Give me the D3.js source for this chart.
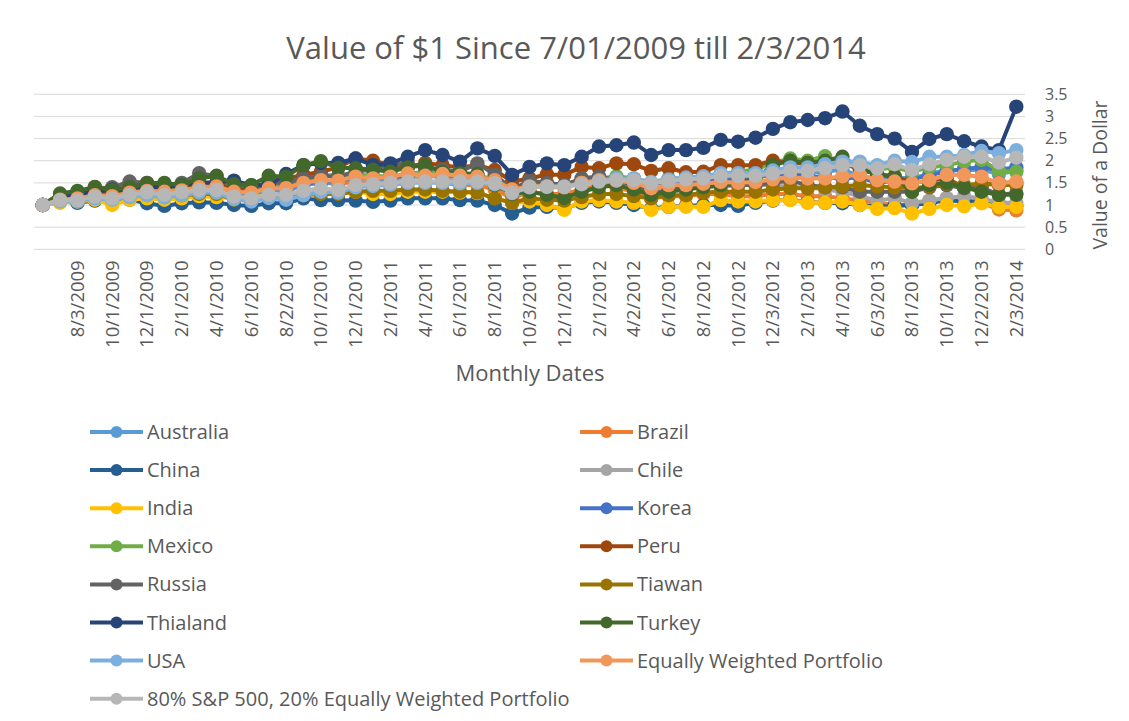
<!DOCTYPE html>
<html>
<head>
<meta charset="utf-8">
<script src="https://cdn.jsdelivr.net/npm/d3@7"></script>
<style>
  body { margin: 0; background: #fff; }
  text { font-family: "Open Sans", "Liberation Sans", sans-serif; fill: #595959; }
</style>
</head>
<body>
<div id="dataviz"></div>
<script>
// categories: 57 monthly dates (first one is the base point, not labelled)
var dates = ["6/1/2009", "7/1/2009", "8/3/2009", "9/1/2009", "10/1/2009", "11/2/2009", "12/1/2009",
  "1/4/2010", "2/1/2010", "3/1/2010", "4/1/2010", "5/3/2010", "6/1/2010", "7/1/2010", "8/2/2010",
  "9/1/2010", "10/1/2010", "11/1/2010", "12/1/2010", "1/3/2011", "2/1/2011", "3/1/2011", "4/1/2011",
  "5/2/2011", "6/1/2011", "7/1/2011", "8/1/2011", "9/1/2011", "10/3/2011", "11/1/2011", "12/1/2011",
  "1/3/2012", "2/1/2012", "3/1/2012", "4/2/2012", "5/1/2012", "6/1/2012", "7/2/2012", "8/1/2012",
  "9/4/2012", "10/1/2012", "11/1/2012", "12/3/2012", "1/2/2013", "2/1/2013", "3/1/2013", "4/1/2013",
  "5/1/2013", "6/3/2013", "7/1/2013", "8/1/2013", "9/3/2013", "10/1/2013", "11/1/2013", "12/2/2013",
  "1/2/2014", "2/3/2014"];

var australia = [1.0, 1.12, 1.18, 1.3, 1.32, 1.4, 1.42, 1.35, 1.38, 1.45, 1.45, 1.25, 1.22, 1.35, 1.3, 1.45, 1.5, 1.48, 1.55, 1.58, 1.6, 1.62, 1.68, 1.62, 1.55, 1.55, 1.45, 1.32, 1.48, 1.45, 1.42, 1.52, 1.55, 1.55, 1.5, 1.4, 1.45, 1.5, 1.55, 1.6, 1.6, 1.62, 1.68, 1.72, 1.72, 1.75, 1.8, 1.65, 1.6, 1.62, 1.6, 1.7, 1.8, 1.78, 1.8, 1.7, 1.78];
var brazil = [1.0, 1.15, 1.25, 1.4, 1.38, 1.5, 1.5, 1.42, 1.45, 1.5, 1.5, 1.35, 1.3, 1.45, 1.4, 1.55, 1.55, 1.5, 1.5, 1.45, 1.45, 1.5, 1.55, 1.5, 1.45, 1.45, 1.35, 1.15, 1.3, 1.25, 1.25, 1.35, 1.45, 1.4, 1.3, 1.15, 1.2, 1.2, 1.25, 1.25, 1.2, 1.2, 1.25, 1.25, 1.2, 1.2, 1.15, 1.1, 1.05, 1.0, 1.0, 1.1, 1.15, 1.1, 1.05, 0.9, 0.88];
var china = [1.0, 1.08, 1.05, 1.1, 1.08, 1.12, 1.04, 0.98, 1.04, 1.06, 1.05, 1.0, 0.98, 1.04, 1.04, 1.15, 1.11, 1.11, 1.1, 1.07, 1.1, 1.15, 1.15, 1.15, 1.11, 1.1, 1.0, 0.81, 0.94, 0.96, 0.92, 1.05, 1.08, 1.05, 1.0, 0.92, 0.96, 0.98, 1.0, 1.0, 0.98, 1.05, 1.1, 1.12, 1.06, 1.05, 1.04, 1.0, 0.96, 0.98, 1.0, 1.04, 1.11, 1.08, 1.08, 0.95, 0.98];
var chile = [1.0, 1.12, 1.15, 1.2, 1.25, 1.3, 1.35, 1.35, 1.4, 1.45, 1.5, 1.4, 1.4, 1.5, 1.55, 1.65, 1.7, 1.65, 1.6, 1.55, 1.55, 1.6, 1.65, 1.65, 1.6, 1.55, 1.5, 1.4, 1.45, 1.4, 1.4, 1.5, 1.5, 1.5, 1.45, 1.35, 1.45, 1.4, 1.4, 1.4, 1.45, 1.45, 1.45, 1.4, 1.4, 1.35, 1.3, 1.2, 1.1, 1.15, 1.05, 1.1, 1.16, 1.2, 1.15, 1.05, 1.05];
var india = [1.0, 1.05, 1.08, 1.12, 1.0, 1.12, 1.15, 1.12, 1.15, 1.2, 1.18, 1.15, 1.18, 1.22, 1.2, 1.28, 1.3, 1.28, 1.3, 1.25, 1.25, 1.3, 1.3, 1.3, 1.28, 1.27, 1.16, 1.05, 1.08, 1.0, 0.89, 1.08, 1.11, 1.08, 1.05, 0.89, 0.96, 0.96, 0.96, 1.11, 1.08, 1.08, 1.11, 1.11, 1.05, 1.05, 1.08, 1.0, 0.91, 0.93, 0.81, 0.91, 1.0, 0.97, 1.04, 0.95, 0.96];
var korea = [1.0, 1.15, 1.2, 1.3, 1.25, 1.28, 1.32, 1.3, 1.35, 1.45, 1.4, 1.3, 1.3, 1.38, 1.38, 1.48, 1.52, 1.55, 1.62, 1.6, 1.6, 1.68, 1.72, 1.68, 1.65, 1.7, 1.5, 1.35, 1.48, 1.48, 1.45, 1.58, 1.6, 1.6, 1.55, 1.42, 1.45, 1.45, 1.52, 1.58, 1.6, 1.62, 1.7, 1.68, 1.65, 1.62, 1.6, 1.62, 1.5, 1.55, 1.58, 1.68, 1.75, 1.82, 1.85, 1.8, 1.85];
var mexico = [1.0, 1.15, 1.2, 1.3, 1.3, 1.3, 1.4, 1.4, 1.4, 1.45, 1.45, 1.35, 1.35, 1.45, 1.5, 1.6, 1.65, 1.65, 1.7, 1.65, 1.65, 1.7, 1.75, 1.7, 1.7, 1.65, 1.6, 1.4, 1.45, 1.5, 1.45, 1.55, 1.6, 1.65, 1.6, 1.5, 1.6, 1.6, 1.65, 1.7, 1.75, 1.8, 1.95, 2.05, 2.0, 2.1, 1.95, 1.9, 1.8, 1.85, 1.75, 1.85, 1.9, 1.98, 2.02, 1.77, 1.75];
var peru = [1.0, 1.15, 1.2, 1.3, 1.3, 1.4, 1.45, 1.45, 1.4, 1.5, 1.5, 1.35, 1.35, 1.5, 1.6, 1.68, 1.75, 1.85, 2.05, 2.0, 1.9, 1.85, 1.95, 1.9, 1.85, 1.9, 1.79, 1.53, 1.6, 1.69, 1.68, 1.86, 1.83, 1.94, 1.92, 1.77, 1.83, 1.74, 1.75, 1.9, 1.9, 1.9, 2.0, 1.95, 1.95, 1.9, 1.95, 1.8, 1.7, 1.65, 1.5, 1.55, 1.6, 1.4, 1.45, 1.5, 1.5];
var russia = [1.0, 1.1, 1.2, 1.35, 1.4, 1.53, 1.5, 1.45, 1.5, 1.72, 1.65, 1.45, 1.4, 1.5, 1.5, 1.6, 1.65, 1.65, 1.75, 1.8, 1.9, 1.95, 1.83, 1.8, 1.75, 1.94, 1.69, 1.35, 1.55, 1.5, 1.45, 1.6, 1.65, 1.55, 1.45, 1.25, 1.35, 1.4, 1.45, 1.45, 1.45, 1.45, 1.5, 1.55, 1.45, 1.4, 1.4, 1.3, 1.3, 1.3, 1.3, 1.4, 1.45, 1.38, 1.4, 1.23, 1.27];
var tiawan = [1.0, 1.1, 1.12, 1.18, 1.15, 1.2, 1.25, 1.2, 1.22, 1.25, 1.25, 1.12, 1.1, 1.18, 1.15, 1.22, 1.25, 1.25, 1.3, 1.32, 1.32, 1.35, 1.35, 1.32, 1.3, 1.28, 1.15, 1.05, 1.15, 1.12, 1.1, 1.18, 1.25, 1.25, 1.2, 1.15, 1.22, 1.22, 1.28, 1.3, 1.3, 1.3, 1.35, 1.38, 1.38, 1.4, 1.42, 1.45, 1.42, 1.4, 1.38, 1.42, 1.48, 1.45, 1.48, 1.45, 1.45];
var thialand = [1.0, 1.2, 1.25, 1.3, 1.35, 1.3, 1.4, 1.4, 1.45, 1.5, 1.5, 1.55, 1.45, 1.45, 1.7, 1.9, 1.95, 1.95, 2.05, 1.9, 1.94, 2.09, 2.24, 2.13, 1.98, 2.28, 2.11, 1.68, 1.86, 1.94, 1.9, 2.09, 2.32, 2.35, 2.41, 2.13, 2.24, 2.24, 2.29, 2.47, 2.43, 2.52, 2.72, 2.87, 2.92, 2.96, 3.11, 2.79, 2.6, 2.5, 2.2, 2.49, 2.6, 2.44, 2.32, 2.24, 3.22];
var turkey = [1.0, 1.26, 1.32, 1.41, 1.34, 1.4, 1.49, 1.5, 1.45, 1.6, 1.66, 1.47, 1.45, 1.66, 1.64, 1.9, 1.99, 1.84, 1.83, 1.8, 1.75, 1.85, 1.9, 1.75, 1.72, 1.7, 1.45, 1.25, 1.3, 1.23, 1.16, 1.3, 1.4, 1.45, 1.35, 1.23, 1.3, 1.35, 1.4, 1.45, 1.5, 1.6, 1.9, 2.0, 1.95, 2.0, 2.09, 1.83, 1.68, 1.64, 1.3, 1.45, 1.5, 1.4, 1.3, 1.23, 1.23];
var usa = [1.0, 1.08, 1.08, 1.15, 1.12, 1.18, 1.22, 1.17, 1.22, 1.28, 1.28, 1.13, 1.08, 1.16, 1.12, 1.22, 1.3, 1.28, 1.4, 1.43, 1.46, 1.5, 1.5, 1.5, 1.49, 1.5, 1.47, 1.27, 1.4, 1.42, 1.42, 1.5, 1.56, 1.6, 1.6, 1.52, 1.58, 1.62, 1.65, 1.72, 1.72, 1.72, 1.78, 1.85, 1.85, 1.92, 1.98, 1.98, 1.9, 2.0, 1.97, 2.09, 2.09, 2.13, 2.22, 2.17, 2.24];
var equalWeighted = [1.0, 1.12, 1.15, 1.22, 1.2, 1.28, 1.32, 1.3, 1.33, 1.4, 1.42, 1.3, 1.28, 1.38, 1.38, 1.5, 1.56, 1.55, 1.64, 1.6, 1.64, 1.71, 1.66, 1.7, 1.66, 1.64, 1.56, 1.35, 1.42, 1.42, 1.4, 1.5, 1.55, 1.55, 1.5, 1.38, 1.45, 1.45, 1.48, 1.52, 1.5, 1.52, 1.58, 1.62, 1.6, 1.6, 1.65, 1.68, 1.56, 1.53, 1.49, 1.56, 1.68, 1.68, 1.64, 1.49, 1.53];
var blend8020 = [1.0, 1.11, 1.11, 1.19, 1.15, 1.23, 1.29, 1.23, 1.29, 1.34, 1.34, 1.19, 1.15, 1.23, 1.23, 1.32, 1.38, 1.34, 1.45, 1.47, 1.5, 1.53, 1.53, 1.53, 1.53, 1.53, 1.49, 1.28, 1.41, 1.41, 1.41, 1.47, 1.53, 1.56, 1.56, 1.49, 1.54, 1.58, 1.6, 1.66, 1.66, 1.66, 1.71, 1.77, 1.77, 1.83, 1.9, 1.9, 1.83, 1.92, 1.79, 1.92, 2.02, 2.09, 2.09, 1.96, 2.07];

var seriesNames = ["Australia", "Brazil", "China", "Chile", "India", "Korea", "Mexico", "Peru", "Russia",
  "Tiawan", "Thialand", "Turkey", "USA", "Equally Weighted Portfolio", "80% S&P 500, 20% Equally Weighted Portfolio"];
var seriesValues = [australia, brazil, china, chile, india, korea, mexico, peru, russia,
  tiawan, thialand, turkey, usa, equalWeighted, blend8020];
var seriesColors = ["#5B9BD5", "#ED7D31", "#255E91", "#A5A5A5", "#FFC000", "#4472C4", "#70AD47", "#9E480E",
  "#636363", "#997300", "#264478", "#43682B", "#7CAFDD", "#F1975A", "#B7B7B7"];
var yTicks = [0, 0.5, 1, 1.5, 2, 2.5, 3, 3.5];

var widthFull = 1129;
var heightFull = 721;
var plot = { left: 34, right: 1025, top: 94.3, bottom: 249.3 };

var svg = d3.select("#dataviz").append("svg")
    .attr("width", widthFull)
    .attr("height", heightFull);

// scales
var x = d3.scaleBand().domain(d3.range(dates.length)).range([plot.left, plot.right]);
var y = d3.scaleLinear().domain([0, 3.5]).range([plot.bottom, plot.top]);
var cx = i => x(i) + x.bandwidth() / 2;

// title
svg.append("text")
    .attr("x", 576).attr("y", 59)
    .attr("text-anchor", "middle")
    .style("font-size", "31px")
    .text("Value of $1 Since 7/01/2009 till 2/3/2014");

// gridlines
svg.append("g")
    .selectAll("line").data(yTicks).enter().append("line")
    .attr("x1", plot.left).attr("x2", plot.right)
    .attr("y1", d => y(d)).attr("y2", d => y(d))
    .attr("stroke", "#d9d9d9").attr("stroke-width", 1);

// right y-axis labels
var yAxis = svg.append("g")
    .attr("transform", "translate(" + (plot.right + 20) + ",0)")
    .call(d3.axisRight(y).tickValues(yTicks).tickSize(0).tickFormat(d3.format("")));
yAxis.select(".domain").remove();
yAxis.selectAll("text")
    .attr("x", 0)
    .style("font-size", "16px")
    .style("fill", "#595959")
    .style("font-family", "'Open Sans', sans-serif");

svg.append("text")
    .attr("transform", "translate(1107,175) rotate(-90)")
    .attr("text-anchor", "middle")
    .style("font-size", "19.5px")
    .text("Value of a Dollar");

// x-axis labels, every other month
var xAxis = svg.append("g")
    .attr("transform", "translate(0," + plot.bottom + ")")
    .call(d3.axisBottom(x)
        .tickValues(d3.range(2, dates.length, 2))
        .tickSize(0)
        .tickFormat(i => dates[i]));
xAxis.select(".domain").remove();
xAxis.selectAll("text")
    .attr("transform", "rotate(-90)")
    .attr("x", -11).attr("y", 0).attr("dy", "0.35em")
    .style("text-anchor", "end")
    .style("font-size", "18.5px")
    .style("fill", "#595959")
    .style("font-family", "'Open Sans', sans-serif");

svg.append("text")
    .attr("x", 530).attr("y", 381)
    .attr("text-anchor", "middle")
    .style("font-size", "22px")
    .text("Monthly Dates");

// series lines + markers, drawn in series order
var line = d3.line().x((d, i) => cx(i)).y(d => y(d));
seriesValues.forEach(function(vals, k) {
    var g = svg.append("g").attr("class", "series");
    g.append("path")
        .attr("d", line(vals))
        .attr("fill", "none")
        .attr("stroke", seriesColors[k])
        .attr("stroke-width", 4)
        .attr("stroke-linejoin", "round");
    g.selectAll("circle").data(vals).enter().append("circle")
        .attr("cx", (d, i) => cx(i))
        .attr("cy", d => y(d))
        .attr("r", 7.2)
        .attr("fill", seriesColors[k]);
});

// legend, two columns
var legend = svg.append("g").selectAll("g").data(seriesNames).enter().append("g")
    .attr("transform", (d, k) => "translate(" + (k % 2 ? 580 : 90) + "," + (432 + Math.floor(k / 2) * 38.1) + ")");
legend.append("line")
    .attr("x1", 0).attr("x2", 53)
    .attr("stroke", (d, k) => seriesColors[k])
    .attr("stroke-width", 4);
legend.append("circle")
    .attr("cx", 26.5).attr("r", 6)
    .attr("fill", (d, k) => seriesColors[k]);
legend.append("text")
    .attr("x", 57).attr("dy", "0.35em")
    .style("font-size", "20px")
    .text(d => d);
</script>
</body>
</html>
